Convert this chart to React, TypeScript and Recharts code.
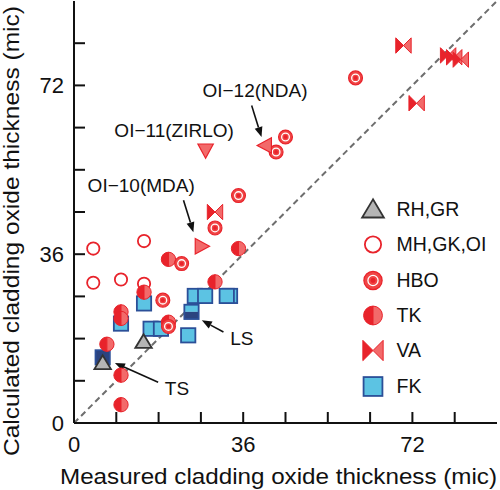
import React from 'react'
import { ScatterChart, Scatter, XAxis, YAxis, ReferenceLine, ReferenceDot, Legend } from 'recharts'

const FONT = '"Liberation Sans", Arial, Helvetica, sans-serif'
const RED = '#e8232b'
const LIGHT_RED = '#f26a6a'
const BLUE_FILL = '#5cc3e3'
const BLUE_EDGE = '#2b4f98'
const NAVY = '#2b437f'

type Pt = { x: number; y: number }

// axis
const axisTicks = [0, 9, 18, 27, 36, 45, 54, 63, 72, 81, 90]
const tickLabels = [0, 36, 72]

// series (measured, calculated) in microns
const fk: Pt[] = [
  { x: 10.0, y: 21.2 }, { x: 14.9, y: 25.5 }, { x: 25.7, y: 27.1 }, { x: 27.9, y: 27.1 },
  { x: 33.2, y: 27.1 }, { x: 32.5, y: 27.1 }, { x: 16.3, y: 20.1 }, { x: 18.5, y: 20.1 },
  { x: 24.3, y: 18.7 },
]
const fkTS: Pt[] = [{ x: 6.1, y: 14.0 }]
const fkLS: Pt[] = [{ x: 25.0, y: 23.7 }]
const rhgr: Pt[] = [{ x: 14.8, y: 17.3 }, { x: 6.1, y: 12.8 }]
const mhgkoi: Pt[] = [
  { x: 4.1, y: 37.2 }, { x: 14.9, y: 38.8 }, { x: 4.1, y: 29.9 }, { x: 10.0, y: 30.6 }, { x: 14.9, y: 29.7 },
]
const tk: Pt[] = [
  { x: 35.0, y: 37.2 }, { x: 20.1, y: 34.9 }, { x: 30.0, y: 30.1 }, { x: 14.9, y: 27.9 },
  { x: 10.0, y: 23.7 }, { x: 10.0, y: 22.3 }, { x: 20.1, y: 21.5 }, { x: 7.0, y: 16.8 },
  { x: 10.0, y: 10.2 }, { x: 10.0, y: 3.9 },
]
const hbo: Pt[] = [
  { x: 35.0, y: 48.5 }, { x: 30.0, y: 41.6 }, { x: 22.9, y: 34.0 }, { x: 18.9, y: 26.2 },
  { x: 20.1, y: 20.6 }, { x: 43.0, y: 57.8 }, { x: 45.0, y: 61.0 }, { x: 59.9, y: 73.6 },
]
const va: Pt[] = [
  { x: 30.0, y: 45.0 }, { x: 70.1, y: 80.5 }, { x: 72.9, y: 68.2 },
  { x: 79.6, y: 78.4 }, { x: 80.9, y: 78.0 }, { x: 82.3, y: 77.5 },
]
const oi10: Pt[] = [{ x: 27.2, y: 37.7 }]
const oi11: Pt[] = [{ x: 28.0, y: 58.1 }]
const oi12: Pt[] = [{ x: 40.6, y: 59.2 }]

const notes = [
  { x: 38.5, y: 70.9, text: 'OI\u221212(NDA)' },
  { x: 21.3, y: 62.4, text: 'OI\u221211(ZIRLO)' },
  { x: 14.3, y: 50.7, text: 'OI\u221210(MDA)' },
  { x: 35.7, y: 18.0, text: 'LS' },
  { x: 21.9, y: 7.3, text: 'TS' },
]
const arrows = [
  { from: { x: 37.8, y: 67.7 }, to: { x: 39.9, y: 61.0 } },
  { from: { x: 23.3, y: 47.5 }, to: { x: 25.4, y: 40.7 } },
  { from: { x: 31.8, y: 19.4 }, to: { x: 27.2, y: 21.9 } },
  { from: { x: 17.9, y: 8.7 }, to: { x: 8.7, y: 12.8 } },
]

const legendItems = [
  { kind: 'tri', label: 'RH,GR' },
  { kind: 'open', label: 'MH,GK,OI' },
  { kind: 'hbo', label: 'HBO' },
  { kind: 'tk', label: 'TK' },
  { kind: 'va', label: 'VA' },
  { kind: 'fk', label: 'FK' },
]

function marker(kind: string, cx: number, cy: number, s = 1.1) {
  const pts = (arr: number[][]) => arr.map(([a, b]) => `${cx + a * s},${cy + b * s}`).join(' ')
  switch (kind) {
    case 'tri':
      return <polygon points={pts([[0, -7], [-7.5, 5.5], [7.5, 5.5]])} fill="#b5b5b5" stroke="#333" strokeWidth={1.8} />
    case 'open':
      return <circle cx={cx} cy={cy} r={5.6 * s} fill="#fff" stroke={RED} strokeWidth={1.8} />
    case 'hbo':
      return (
        <g>
          <circle cx={cx} cy={cy} r={6.3 * s} fill="#f04545" stroke={RED} strokeWidth={1.2} />
          <circle cx={cx} cy={cy} r={3.5 * s} fill="none" stroke="#fff" strokeWidth={1.3} />
          <circle cx={cx} cy={cy} r={1.7 * s} fill={RED} />
        </g>
      )
    case 'tk': {
      const r = 6.5 * s
      return (
        <g stroke={RED} strokeWidth={1}>
          <path d={`M${cx},${cy - r} A${r},${r} 0 0 0 ${cx},${cy + r} Z`} fill={RED} />
          <path d={`M${cx},${cy - r} A${r},${r} 0 0 1 ${cx},${cy + r} Z`} fill={LIGHT_RED} />
        </g>
      )
    }
    case 'va':
      return (
        <g stroke={RED} strokeWidth={1}>
          <polygon points={pts([[-7, -7], [-7, 7], [0, 0]])} fill={RED} />
          <polygon points={pts([[7, -7], [7, 7], [0, 0]])} fill={LIGHT_RED} />
        </g>
      )
    case 'fk':
    case 'fkdark': {
      const h = 6.5 * s
      return <rect x={cx - h} y={cy - h} width={2 * h} height={2 * h} fill={kind === 'fk' ? BLUE_FILL : NAVY} stroke={BLUE_EDGE} strokeWidth={1.8} />
    }
    case 'ls': {
      const h = 6.5 * s
      return (
        <g>
          <rect x={cx - h} y={cy - h} width={2 * h} height={h} fill={BLUE_FILL} />
          <rect x={cx - h} y={cy} width={2 * h} height={h} fill={NAVY} />
          <rect x={cx - h} y={cy - h} width={2 * h} height={2 * h} fill="none" stroke={BLUE_EDGE} strokeWidth={1.8} />
        </g>
      )
    }
    case 'triR':
      return <polygon points={pts([[7, 0], [-6, -7], [-6, 7]])} fill={LIGHT_RED} stroke={RED} strokeWidth={1.2} />
    case 'triD':
      return <polygon points={pts([[-7, -6], [7, -6], [0, 7]])} fill={LIGHT_RED} stroke={RED} strokeWidth={1.2} />
    case 'triL':
      return <polygon points={pts([[-7, 0], [6, -7], [6, 7]])} fill={LIGHT_RED} stroke={RED} strokeWidth={1.2} />
  }
  return null
}

const shapeOf = (kind: string) => (p: any) => marker(kind, p.cx, p.cy)

const tickFor = (side: 'bottom' | 'top' | 'left' | 'right') => (p: any) => {
  const v = p.payload.value
  const inner = v > 0 && v < 90
  const L = 11
  let line = null
  if (inner) {
    if (side === 'bottom') line = <line x1={p.x} y1={p.y} x2={p.x} y2={p.y - L} />
    if (side === 'top') line = <line x1={p.x} y1={p.y} x2={p.x} y2={p.y + L} />
    if (side === 'left') line = <line x1={p.x} y1={p.y} x2={p.x + L} y2={p.y} />
    if (side === 'right') line = <line x1={p.x} y1={p.y} x2={p.x - L} y2={p.y} />
  }
  const showLabel = tickLabels.includes(v) && (side === 'bottom' || side === 'left')
  return (
    <g stroke="#111" strokeWidth={2}>
      {line}
      {showLabel && (
        <text
          x={side === 'bottom' ? p.x : p.x - 10}
          y={side === 'bottom' ? p.y + 28.5 : p.y + 8}
          textAnchor={side === 'bottom' ? 'middle' : 'end'}
          fontSize={22}
          fontFamily={FONT}
          fill="#111"
          stroke="none"
        >
          {v}
        </text>
      )}
    </g>
  )
}

const arrowShape = (p: any) => {
  const { x1, y1, x2, y2 } = p
  const ang = Math.atan2(y2 - y1, x2 - x1)
  const len = 10
  const wid = 4
  const bx = x2 - len * Math.cos(ang)
  const by = y2 - len * Math.sin(ang)
  const nx = -Math.sin(ang) * wid
  const ny = Math.cos(ang) * wid
  return (
    <g>
      <line x1={x1} y1={y1} x2={bx} y2={by} stroke="#111" strokeWidth={1.6} />
      <polygon points={`${x2},${y2} ${bx + nx},${by + ny} ${bx - nx},${by - ny}`} fill="#111" />
    </g>
  )
}

function LegendBox() {
  return (
    <div style={{ fontFamily: FONT }}>
      {legendItems.map((it) => (
        <div key={it.label} style={{ display: 'flex', alignItems: 'center', height: 35.3 }}>
          <svg width={26} height={35} style={{ overflow: 'visible' }}>
            {marker(it.kind, 13, 17.5, 1.45)}
          </svg>
          <span style={{ marginLeft: 10.5, fontSize: 19.5, color: '#111', whiteSpace: 'nowrap' }}>{it.label}</span>
        </div>
      ))}
    </div>
  )
}

export default function App() {
  return (
    <div style={{ position: 'absolute', left: 0, top: 0, width: 500, height: 490, background: '#fff' }}>
      <ScatterChart width={500} height={490} margin={{ top: 1, right: 3, bottom: 0, left: 0 }}>
        <XAxis
          type="number" dataKey="x" domain={[0, 90]} ticks={axisTicks} interval={0}
          height={67} tickSize={0} tickMargin={0} tickLine={false}
          axisLine={{ stroke: '#111', strokeWidth: 2 }} tick={tickFor('bottom')}
          label={{
            content: (lp: any) => {
              const vb = lp.viewBox
              return (
                <text x={vb.x + vb.width / 2 - 7} y={vb.y + 61} textAnchor="middle" fontSize={21.5}
                  fontFamily={FONT} fill="#111" textLength={437} lengthAdjust="spacingAndGlyphs">
                  Measured cladding oxide thickness (mic)
                </text>
              )
            },
          }}
        />
        <XAxis
          xAxisId="top" orientation="top" type="number" domain={[0, 90]} ticks={axisTicks} interval={0}
          height={0} tickSize={0} tickMargin={0} tickLine={false} allowDataOverflow
          axisLine={{ stroke: '#111', strokeWidth: 2 }} tick={tickFor('top')}
        />
        <YAxis
          type="number" dataKey="y" domain={[0, 90]} ticks={axisTicks} interval={0}
          width={74} tickSize={0} tickMargin={0} tickLine={false}
          axisLine={{ stroke: '#111', strokeWidth: 2 }} tick={tickFor('left')}
          label={{
            content: () => (
              <text transform="translate(18.5,231) rotate(-90)" textAnchor="middle" fontSize={21.5}
                fontFamily={FONT} fill="#111" textLength={450} lengthAdjust="spacingAndGlyphs">
                Calculated cladding oxide thickness (mic)
              </text>
            ),
          }}
        />
        <YAxis
          yAxisId="right" orientation="right" type="number" domain={[0, 90]} ticks={axisTicks} interval={0}
          width={0} tickSize={0} tickMargin={0} tickLine={false} allowDataOverflow
          axisLine={{ stroke: '#111', strokeWidth: 2 }} tick={tickFor('right')}
        />
        <ReferenceLine
          segment={[{ x: 0, y: 0 }, { x: 90, y: 90 }]}
          stroke="#6e6e6e" strokeWidth={2} strokeDasharray="6 4"
        />
        {arrows.map((a, i) => (
          <ReferenceLine key={'a' + i} segment={[a.from, a.to]} shape={arrowShape} />
        ))}
        {notes.map((n) => (
          <ReferenceDot key={n.text} x={n.x} y={n.y} r={0}
            shape={(p: any) => (
              <text x={p.cx} y={p.cy} dy="0.35em" textAnchor="middle" fontSize={19} fontFamily={FONT} fill="#111">
                {n.text}
              </text>
            )}
          />
        ))}
        <Scatter name="FK" data={fk} shape={shapeOf('fk')} isAnimationActive={false} />
        <Scatter name="TS" data={fkTS} shape={shapeOf('fkdark')} isAnimationActive={false} />
        <Scatter name="LS" data={fkLS} shape={shapeOf('ls')} isAnimationActive={false} />
        <Scatter name="RH,GR" data={rhgr} shape={shapeOf('tri')} isAnimationActive={false} />
        <Scatter name="MH,GK,OI" data={mhgkoi} shape={shapeOf('open')} isAnimationActive={false} />
        <Scatter name="TK" data={tk} shape={shapeOf('tk')} isAnimationActive={false} />
        <Scatter name="HBO" data={hbo} shape={shapeOf('hbo')} isAnimationActive={false} />
        <Scatter name="VA" data={va} shape={shapeOf('va')} isAnimationActive={false} />
        <Scatter name="OI-10" data={oi10} shape={shapeOf('triR')} isAnimationActive={false} />
        <Scatter name="OI-11" data={oi11} shape={shapeOf('triD')} isAnimationActive={false} />
        <Scatter name="OI-12" data={oi12} shape={shapeOf('triL')} isAnimationActive={false} />
        <Legend
          layout="vertical" align="center" verticalAlign="middle"
          wrapperStyle={{ left: 360, top: 192, width: 140 }}
          content={() => <LegendBox />}
        />
      </ScatterChart>
    </div>
  )
}
